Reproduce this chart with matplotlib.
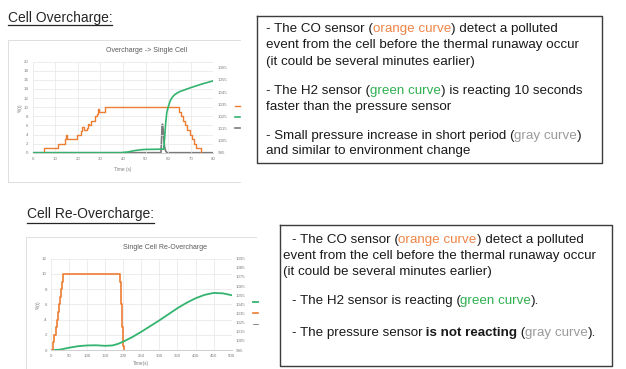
import matplotlib
matplotlib.use("Agg")
import matplotlib.pyplot as plt

W, H = 626, 369

# ---------------- data: Overcharge -> Single Cell ----------------
oc_co_time = [0, 5, 11, 14.3, 14.7, 15.2, 19.5, 21.5, 22.0, 22.6, 24.0, 24.5, 25.0, 26.0, 27.5, 28.5, 29.0, 29.5, 32.0,
              64.6, 65.5, 66.5, 67.5, 68.5, 69.5, 70.5, 71.5, 72.5, 74.5]
oc_co_val = [0, 1, 2, 3, 3.8, 3, 4, 4.8, 5.6, 5, 5.5, 6.3, 6, 7, 8, 8.5, 9.5, 9, 10,
             9, 8, 7, 6, 5, 4, 3, 2, 1, 0]
oc_h2_time = [0, 39, 42, 45, 48, 50, 58.0, 58.4, 58.9, 59.4, 60, 60.5, 61, 62, 63, 65, 70, 75, 80]
oc_h2_val = [0, 0, 0.15, 0.45, 0.65, 0.72, 0.78, 3, 6.5, 8.8, 10, 10.8, 11.5, 12.3, 12.8, 13.4, 14.3, 15.1, 15.8]
oc_p_time = [0, 56.8, 57.0, 57.3, 57.5, 57.8, 58.1, 58.5, 59.0, 59.6, 80]
oc_p_val = [995, 995, 1002, 1017, 1018.5, 1014, 1006, 999, 996, 995, 995]
oc_xticks = [0, 10, 20, 30, 40, 50, 60, 70, 80]
oc_yticks = [0, 2, 4, 6, 8, 10, 12, 14, 16, 18, 20]
oc_y2ticks = [995, 1005, 1015, 1025, 1035, 1045, 1055, 1065]

# ---------------- data: Single Cell Re-Overcharge ----------------
ro_co_time = [0, 5, 9.5, 14, 17, 20, 23, 26, 28.5, 31, 34, 191, 192.5, 194, 195.5, 197, 198.5, 200, 203]
ro_co_val = [0, 1, 2, 3, 4, 5, 6, 7, 8, 9, 10, 9, 7.5, 6, 4.5, 3, 1.5, 0.5, 0]
ro_h2_time = [10, 25, 50, 75, 100, 125, 150, 170, 185, 200, 225, 250, 275, 300, 325, 350, 375, 400, 425, 450, 475, 500]
ro_h2_val = [0, 0.05, 0.3, 0.5, 0.6, 0.62, 0.55, 0.6, 0.8, 1.1, 1.7, 2.4, 3.15, 3.9, 4.7, 5.5, 6.2, 6.8, 7.25, 7.5, 7.45, 7.2]
ro_p_time = [0, 500]
ro_p_val = [995, 995]
ro_xticks = [0, 50, 100, 150, 200, 250, 300, 350, 400, 450, 500]
ro_yticks = [0, 2, 4, 6, 8, 10, 12]
ro_y2ticks = [995, 1005, 1015, 1025, 1035, 1045, 1055, 1065, 1075, 1085, 1095]

ORANGE = '#ed7d31'
GREEN = '#33b46e'
GRAY = '#7a7a7a'
TXT = '#1a1a1a'
TXT_OR = '#f08446'
TXT_GR = '#2eb050'
TXT_GY = '#9a9a9a'

plt.rcParams['font.family'] = ['Liberation Sans', 'DejaVu Sans']

fig = plt.figure(figsize=(W / 100, H / 100), dpi=100)
bg = fig.add_axes([0, 0, 1, 1])
bg.set_xlim(0, W)
bg.set_ylim(H, 0)
bg.axis('off')
bg.patch.set_alpha(0)


def rect(l, t, r, b):
    return [l / W, 1 - b / H, (r - l) / W, (b - t) / H]


def chart(box, title, title_xy, xticks, yticks, y2ticks, xlim, ylim, y2lim, xlabel, xlabel_y,
          ylabel_x, frame):
    ax = fig.add_axes(rect(*box))
    ax2 = ax.twinx()
    ax.set_zorder(ax2.get_zorder() + 1)
    for a in (ax, ax2):
        for s in a.spines.values():
            s.set_visible(False)
        a.patch.set_alpha(0)
        a.tick_params(length=0, labelsize=3.2, labelcolor='#808080', pad=3)
    ax.spines['bottom'].set_visible(True)
    ax.spines['bottom'].set_color('#c8c8c8')
    ax.spines['bottom'].set_linewidth(0.6)
    ax.set_xticks(xticks)
    ax.set_yticks(yticks)
    ax2.set_yticks(y2ticks)
    ax.set_xlim(*xlim)
    ax.set_ylim(*ylim)
    ax2.set_ylim(*y2lim)
    ax.grid(True, color='#e6e6e6', lw=0.5)
    ax.set_axisbelow(True)
    # frame of chart image (left, top, bottom edges visible)
    l, t, r, b = frame
    bg.plot([r, l, l], [t, t, b], color='#d9d9d9', lw=0.6)
    if b < H:
        bg.plot([l, r], [b, b], color='#d9d9d9', lw=0.6)
    bg.text(title_xy[0], title_xy[1], title, fontsize=5, color='#595959', ha='center', va='center')
    bg.text((box[0] + box[2]) / 2, xlabel_y, xlabel, fontsize=3.4, color='#808080', ha='center', va='center')
    bg.text(ylabel_x, (box[1] + box[3]) / 2, '%(t)', fontsize=3.4, color='#808080', ha='center',
            va='center', rotation=90)
    return ax, ax2


# ---------- top chart ----------
ax, ax2 = chart((32.7, 61.7, 213.3, 152.7), 'Overcharge -> Single Cell', (147, 51),
                oc_xticks, oc_yticks, oc_y2ticks, (0, 80), (0, 20), (995, 1070),
                'Time (s)', 170, 20, (8, 40, 240, 182))
l_co, = ax.plot(oc_co_time, oc_co_val, drawstyle='steps-post', color=ORANGE, lw=1.0)
l_h2, = ax.plot(oc_h2_time, oc_h2_val, color=GREEN, lw=1.2)
l_p, = ax2.plot(oc_p_time, oc_p_val, color=GRAY, lw=1.2)
fig.legend([l_co, l_h2, l_p], [' ', ' ', ' '], loc='center left',
           bbox_to_anchor=(232 / W, 1 - 117 / H), frameon=False, fontsize=4.5,
           handlelength=0.7, handletextpad=0.2, labelspacing=0.9, borderpad=0)

# ---------- bottom chart ----------
bx, bx2 = chart((51, 258.7, 231.7, 350), 'Single Cell Re-Overcharge', (165, 247.5),
                ro_xticks, ro_yticks, ro_y2ticks, (0, 500), (0, 12), (995, 1095),
                'Time(s)', 364, 38, (26, 237, 256, 400))
r_co, = bx.plot(ro_co_time, ro_co_val, drawstyle='steps-post', color=ORANGE, lw=1.2)
r_h2, = bx.plot(ro_h2_time, ro_h2_val, color=GREEN, lw=1.3)
r_p, = bx2.plot(ro_p_time, ro_p_val, color=GRAY, lw=0.6)
fig.legend([r_h2, r_co, r_p], [' ', ' ', ' '], loc='center left',
           bbox_to_anchor=(250 / W, 1 - 313 / H), frameon=False, fontsize=4.5,
           handlelength=0.7, handletextpad=0.2, labelspacing=0.9, borderpad=0)

# ---------- headings ----------
renderer = fig.canvas.get_renderer()


def heading(x, y, s, uy):
    t = bg.text(x, y, s, fontsize=10, color='#262626', ha='left', va='center')
    bb = t.get_window_extent(renderer)
    bg.plot([bb.x0, bb.x1], [uy, uy], color='#262626', lw=0.9)


heading(7.5, 18, 'Cell Overcharge:', 24.5)
heading(27, 214, 'Cell Re-Overcharge:', 222.5)

# ---------- text boxes ----------
FS = 9.6


def rich_line(x, y, parts):
    prev = None
    for s, color, weight in parts:
        if prev is None:
            prev = bg.text(x, y, s, fontsize=FS, color=color, fontweight=weight, ha='left', va='center')
        else:
            prev = bg.annotate(s, xycoords=prev, xy=(1, 0), va='bottom', ha='left',
                               fontsize=FS, color=color, fontweight=weight)


def box(l, t, r, b):
    bg.plot([l, r, r, l, l], [t, t, b, b, t], color='#3c3c3c', lw=1.0)


box(256.7, 16, 601.7, 163)
rich_line(266, 29, [('- The CO sensor (', TXT, 'normal'), ('orange curve', TXT_OR, 'normal'),
                    (') detect a polluted', TXT, 'normal')])
rich_line(266, 45, [('event from the cell before the thermal runaway occur', TXT, 'normal')])
rich_line(266, 62, [('(it could be several minutes earlier)', TXT, 'normal')])
rich_line(266, 91, [('- The H2 sensor (', TXT, 'normal'), ('green curve', TXT_GR, 'normal'),
                    (') is reacting 10 seconds', TXT, 'normal')])
rich_line(266, 107, [('faster than the pressure sensor', TXT, 'normal')])
rich_line(266, 136, [('- Small pressure increase in short period (', TXT, 'normal'),
                     ('gray curve', TXT_GY, 'normal'), (')', TXT, 'normal')])
rich_line(266, 151, [('and similar to environment change', TXT, 'normal')])

box(280, 225, 611.7, 366)
rich_line(291.5, 240, [('- The CO sensor (', TXT, 'normal'), ('orange curve', TXT_OR, 'normal'),
                       (') detect a polluted', TXT, 'normal')])
rich_line(283, 256.5, [('event from the cell before the thermal runaway occur', TXT, 'normal')])
rich_line(283, 272, [('(it could be several minutes earlier)', TXT, 'normal')])
rich_line(291.5, 301, [('- The H2 sensor is reacting (', TXT, 'normal'), ('green curve', TXT_GR, 'normal'),
                       (').', TXT, 'normal')])
rich_line(291.5, 333, [('- The pressure sensor', TXT, 'normal'), (' is not reacting', TXT, 'bold'),
                       (' (', TXT, 'normal'), ('gray curve', TXT_GY, 'normal'), (').', TXT, 'normal')])

fig.savefig('out.png', dpi=100)
